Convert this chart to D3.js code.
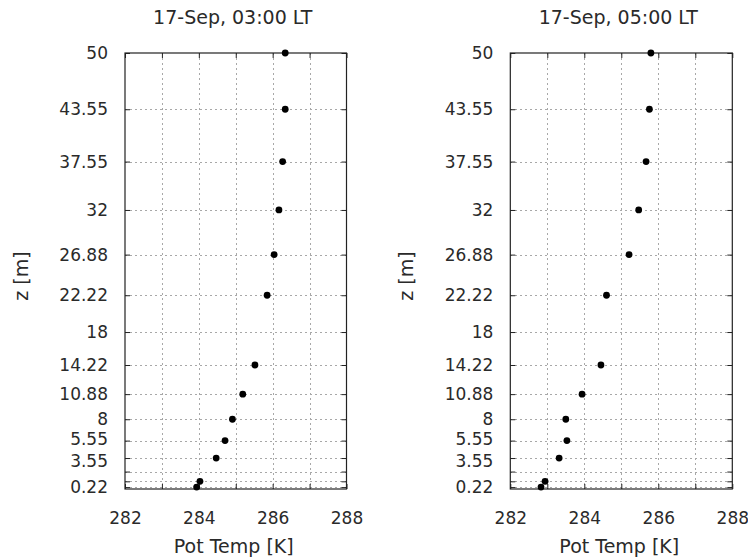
<!DOCTYPE html>
<html>
<head>
<meta charset="utf-8">
<script src="https://cdn.jsdelivr.net/npm/d3@7"></script>
<style>
  html, body { margin: 0; padding: 0; background: #fff; }
  svg { display: block; }
  text { font-family: "DejaVu Sans", sans-serif; fill: #2a2a2a; }
</style>
</head>
<body>
<svg id="chart" width="748" height="560"></svg>
<script>
// Measurement heights of the tower sensors [m]
const heights = [0.22, 0.88, 2, 3.55, 5.55, 8, 10.88, 14.22, 18, 22.22, 26.88, 32, 37.55, 43.55, 50];
// Potential temperature profiles [K]; null = no valid reading at that level
const theta0300 = [283.94, 284.03, null, 284.47, 284.71, 284.91, 285.19, 285.52, null, 285.85, 286.04, 286.17, 286.27, 286.34, 286.34];
const theta0500 = [282.83, 282.94, null, 283.32, 283.53, 283.50, 283.94, 284.45, null, 284.60, 285.21, 285.47, 285.67, 285.76, 285.80];
const titles = ["17-Sep, 03:00 LT", "17-Sep, 05:00 LT"];
// Axis ticks: every sensor level gets a tick, crowded ones stay unlabeled
const yTicks = heights;
const yTickLabels = ["0.22", "", "", "3.55", "5.55", "8", "10.88", "14.22", "18", "22.22", "26.88", "32", "37.55", "43.55", "50"];
const xTicks = [282, 283, 284, 285, 286, 287, 288];
const xTickLabels = ["282", "", "284", "", "286", "", "288"];
const xDomain = [282, 288];
const yDomain = [0, 50];

const svg = d3.select("#chart");
const panels = [
  { left: 125, right: 346.5, values: theta0300, title: titles[0] },
  { left: 510.3, right: 732.3, values: theta0500, title: titles[1] }
];
const plotTop = 53, plotBottom = 489;
const tickLen = 5;

panels.forEach(p => {
  const x = d3.scaleLinear().domain(xDomain).range([p.left, p.right]);
  const y = d3.scaleLinear().domain(yDomain).range([plotBottom, plotTop]);
  const g = svg.append("g");

  // dotted grid
  const grid = g.append("g").attr("stroke", "#a8a8a8").attr("stroke-width", 1)
    .attr("stroke-dasharray", "2,3").attr("shape-rendering", "crispEdges");
  grid.selectAll("line.v").data(xTicks.slice(1, -1)).join("line")
    .attr("x1", d => Math.round(x(d)) + 0.5).attr("x2", d => Math.round(x(d)) + 0.5)
    .attr("y1", plotTop).attr("y2", plotBottom);
  grid.selectAll("line.h").data(yTicks.filter(d => d > yDomain[0] && d < yDomain[1])).join("line")
    .attr("y1", d => Math.round(y(d)) + 0.5).attr("y2", d => Math.round(y(d)) + 0.5)
    .attr("x1", p.left).attr("x2", p.right);

  // axes with inward ticks on all four sides
  const axL = d3.axisLeft(y).tickValues(yTicks).tickSize(-tickLen).tickPadding(17)
    .tickFormat((d, i) => yTickLabels[i]);
  const axR = d3.axisRight(y).tickValues(yTicks).tickSize(-tickLen).tickFormat("");
  const axB = d3.axisBottom(x).tickValues(xTicks).tickSize(-tickLen).tickPadding(23)
    .tickFormat((d, i) => xTickLabels[i]);
  const axT = d3.axisTop(x).tickValues(xTicks).tickSize(-tickLen).tickFormat("");

  const styleAxis = sel => {
    sel.select(".domain").remove();
    sel.selectAll("line").attr("stroke", "#222");
    sel.selectAll("text").attr("font-size", 17).attr("font-family", "DejaVu Sans, sans-serif").attr("fill", "#2a2a2a");
  };
  const gL = g.append("g").attr("transform", `translate(${p.left},0)`).call(axL).call(styleAxis);
  // the two closely spaced low labels are eased apart by a pixel so they do not collide
  gL.selectAll(".tick text").attr("dy", d => d === 3.55 ? "0.5em" : d === 5.55 ? "0.24em" : "0.32em");
  g.append("g").attr("transform", `translate(${p.right},0)`).call(axR).call(styleAxis);
  g.append("g").attr("transform", `translate(0,${plotBottom})`).call(axB).call(styleAxis);
  g.append("g").attr("transform", `translate(0,${plotTop})`).call(axT).call(styleAxis);

  // frame
  g.append("rect").attr("x", p.left).attr("y", plotTop)
    .attr("width", p.right - p.left).attr("height", plotBottom - plotTop)
    .attr("fill", "none").attr("stroke", "#222").attr("stroke-width", 1.2);

  // profile points
  const pts = heights.map((h, i) => ({ h, t: p.values[i] })).filter(d => d.t != null);
  g.append("g").selectAll("circle").data(pts).join("circle")
    .attr("cx", d => x(d.t)).attr("cy", d => y(d.h)).attr("r", 3.4).attr("fill", "#000");

  // titles and axis labels
  const cx = (p.left + p.right) / 2;
  g.append("text").attr("x", cx - 3).attr("y", 24).attr("text-anchor", "middle")
    .attr("font-size", 19).text(p.title);
  g.append("text").attr("x", cx - 2).attr("y", 553).attr("text-anchor", "middle")
    .attr("font-size", 19).text("Pot Temp [K]");
  g.append("text").attr("transform", `translate(${p.left - 97},${(plotTop + plotBottom) / 2 + 5}) rotate(-90)`)
    .attr("text-anchor", "middle").attr("font-size", 19).text("z [m]");
});
</script>
</body>
</html>
